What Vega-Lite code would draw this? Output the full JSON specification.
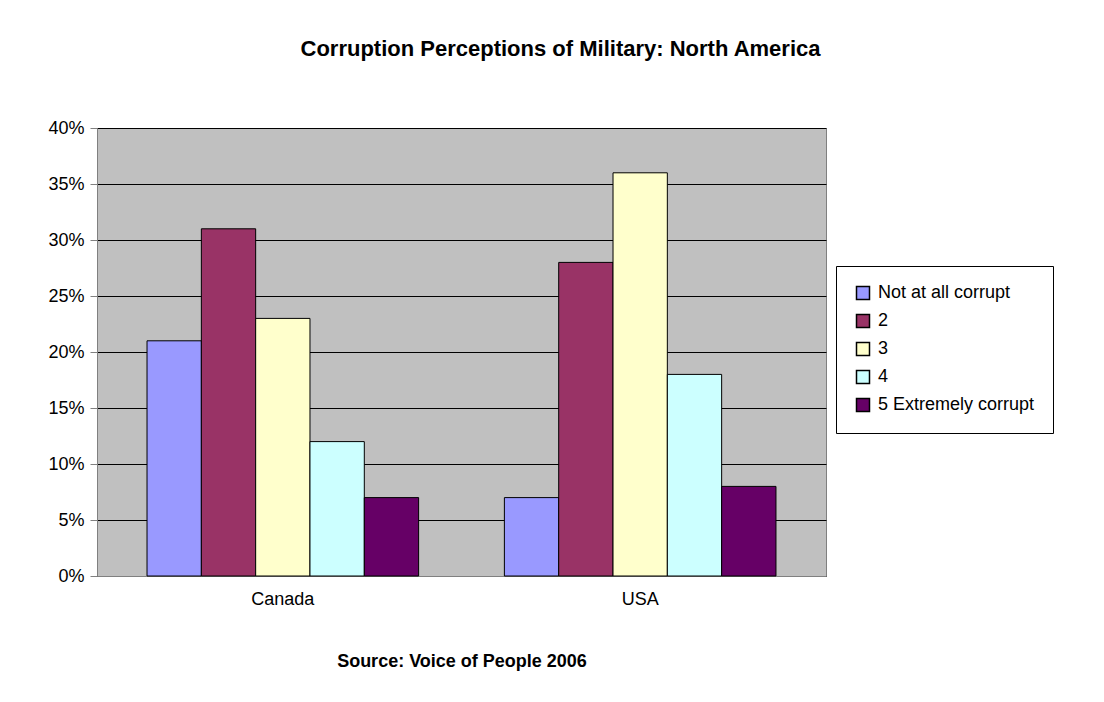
{
  "$schema": "https://vega.github.io/schema/vega-lite/v6.json",
  "autosize": {"type": "none"},
  "padding": {"left": 97, "top": 128, "right": 278, "bottom": 126},
  "width": 729,
  "height": 448,
  "background": "white",
  "config": {
    "font": "Liberation Sans",
    "view": {"fill": "#C0C0C0", "stroke": "#808080", "strokeWidth": 1}
  },
  "title": {
    "text": "Corruption Perceptions of Military: North America",
    "fontSize": 22,
    "fontWeight": "bold",
    "color": "black",
    "anchor": "middle",
    "dx": 99,
    "offset": 58
  },
  "data": {
    "values": [
      {"country": "Canada", "rating": "Not at all corrupt", "value": 0.21},
      {"country": "Canada", "rating": "2", "value": 0.31},
      {"country": "Canada", "rating": "3", "value": 0.23},
      {"country": "Canada", "rating": "4", "value": 0.12},
      {"country": "Canada", "rating": "5 Extremely corrupt", "value": 0.07},
      {"country": "USA", "rating": "Not at all corrupt", "value": 0.07},
      {"country": "USA", "rating": "2", "value": 0.28},
      {"country": "USA", "rating": "3", "value": 0.36},
      {"country": "USA", "rating": "4", "value": 0.18},
      {"country": "USA", "rating": "5 Extremely corrupt", "value": 0.08}
    ]
  },
  "mark": {"type": "bar", "stroke": "black", "strokeWidth": 1},
  "encoding": {
    "x": {
      "field": "country",
      "type": "nominal",
      "scale": {"paddingInner": 0.24, "paddingOuter": 0.14},
      "axis": {
        "title": "Source: Voice of People 2006",
        "titleFontSize": 18,
        "titleFontWeight": "bold",
        "titleColor": "black",
        "titlePadding": 44,
        "labelAngle": 0,
        "labelFontSize": 18,
        "labelColor": "black",
        "labelPadding": 14,
        "ticks": false,
        "domainColor": "#808080"
      }
    },
    "xOffset": {
      "field": "rating",
      "type": "nominal",
      "sort": ["Not at all corrupt", "2", "3", "4", "5 Extremely corrupt"]
    },
    "y": {
      "field": "value",
      "type": "quantitative",
      "scale": {"domain": [0, 0.4], "nice": false},
      "axis": {
        "title": null,
        "format": ".0%",
        "values": [0, 0.05, 0.1, 0.15, 0.2, 0.25, 0.3, 0.35, 0.4],
        "labelFontSize": 18,
        "labelColor": "black",
        "labelPadding": 6,
        "tickSize": 7,
        "tickColor": "#808080",
        "domainColor": "#808080",
        "gridColor": "black",
        "gridOpacity": 1,
        "gridWidth": 1
      }
    },
    "color": {
      "field": "rating",
      "type": "nominal",
      "sort": ["Not at all corrupt", "2", "3", "4", "5 Extremely corrupt"],
      "scale": {
        "domain": ["Not at all corrupt", "2", "3", "4", "5 Extremely corrupt"],
        "range": ["#9999FF", "#993366", "#FFFFCC", "#CCFFFF", "#660066"]
      },
      "legend": {
        "title": null,
        "orient": "none",
        "legendX": 739,
        "legendY": 138,
        "fillColor": "white",
        "strokeColor": "black",
        "padding": 18,
        "symbolType": "square",
        "symbolSize": 169,
        "symbolStrokeColor": "black",
        "symbolStrokeWidth": 1.5,
        "symbolOpacity": 1,
        "labelFontSize": 18,
        "labelColor": "black",
        "labelLimit": 300,
        "labelOffset": 6,
        "rowPadding": 8
      }
    }
  }
}
